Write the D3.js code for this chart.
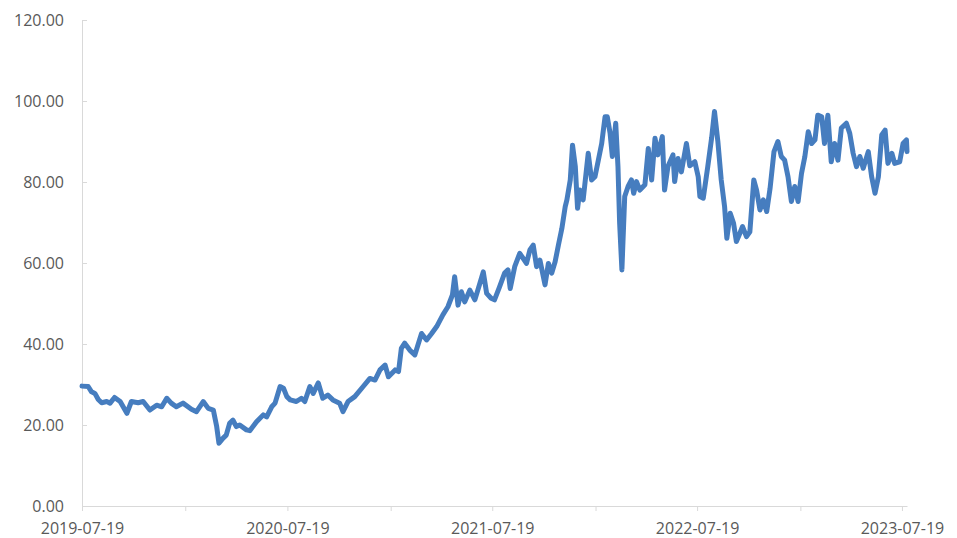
<!DOCTYPE html>
<html>
<head>
<meta charset="utf-8">
<script src="https://cdn.jsdelivr.net/npm/d3@7/dist/d3.min.js"></script>
<style>
  html, body { margin: 0; padding: 0; background: #ffffff; }
  svg { display: block; }
  .tick text { font-family: "Open Sans", "Noto Sans", sans-serif; font-size: 16px; fill: #595959; }
</style>
</head>
<body>
<svg id="chart" width="957" height="538"></svg>
<script>
// Observation dates and closing values of the series
const dates = [
  "2019-07-19","2019-07-30","2019-08-05","2019-08-11","2019-08-17","2019-08-23","2019-09-01","2019-09-07",
  "2019-09-15","2019-09-25","2019-10-07","2019-10-15","2019-10-27","2019-11-05","2019-11-17","2019-11-29",
  "2019-12-08","2019-12-17","2019-12-25","2020-01-03","2020-01-15","2020-01-30","2020-02-08","2020-02-20",
  "2020-02-29","2020-03-09","2020-03-15","2020-03-19","2020-03-26","2020-04-01","2020-04-07","2020-04-13",
  "2020-04-19","2020-04-25","2020-05-07","2020-05-13","2020-05-25","2020-06-06","2020-06-12","2020-06-21",
  "2020-06-27","2020-07-06","2020-07-12","2020-07-18","2020-07-24","2020-08-04","2020-08-13","2020-08-19",
  "2020-08-28","2020-09-03","2020-09-12","2020-09-20","2020-09-29","2020-10-08","2020-10-20","2020-10-26",
  "2020-11-04","2020-11-16","2020-12-01","2020-12-13","2020-12-22","2020-12-31","2021-01-09","2021-01-15",
  "2021-01-27","2021-02-02","2021-02-07","2021-02-13","2021-02-22","2021-03-03","2021-03-15","2021-03-24",
  "2021-04-02","2021-04-11","2021-04-22","2021-05-01","2021-05-09","2021-05-13","2021-05-19","2021-05-25",
  "2021-05-31","2021-06-09","2021-06-18","2021-06-27","2021-07-03","2021-07-09","2021-07-17","2021-07-23",
  "2021-08-01","2021-08-10","2021-08-16","2021-08-20","2021-08-28","2021-09-06","2021-09-18","2021-09-24",
  "2021-09-30","2021-10-06","2021-10-12","2021-10-21","2021-10-27","2021-11-02","2021-11-08","2021-11-14",
  "2021-11-20","2021-11-26","2021-11-29","2021-12-05","2021-12-09","2021-12-14","2021-12-18","2021-12-22",
  "2021-12-28","2022-01-06","2022-01-12","2022-01-18","2022-01-24","2022-01-30","2022-02-05","2022-02-09",
  "2022-02-14","2022-02-18","2022-02-24","2022-02-28","2022-03-03","2022-03-07","2022-03-12","2022-03-18",
  "2022-03-24","2022-03-28","2022-04-02","2022-04-08","2022-04-17","2022-04-23","2022-04-29","2022-05-05",
  "2022-05-10","2022-05-18","2022-05-22","2022-05-28","2022-06-06","2022-06-09","2022-06-15","2022-06-21",
  "2022-06-30","2022-07-06","2022-07-15","2022-07-21","2022-07-24","2022-07-30","2022-08-07","2022-08-14",
  "2022-08-19","2022-08-25","2022-08-31","2022-09-06","2022-09-10","2022-09-16","2022-09-22","2022-09-27",
  "2022-10-03","2022-10-08","2022-10-15","2022-10-21","2022-10-28","2022-11-02","2022-11-08","2022-11-14",
  "2022-11-20","2022-11-26","2022-12-03","2022-12-10","2022-12-16","2022-12-22","2022-12-28","2023-01-03",
  "2023-01-09","2023-01-15","2023-01-21","2023-01-27","2023-02-02","2023-02-08","2023-02-14","2023-02-19",
  "2023-02-26","2023-03-03","2023-03-09","2023-03-15","2023-03-21","2023-03-27","2023-04-02","2023-04-11",
  "2023-04-17","2023-04-23","2023-04-29","2023-05-05","2023-05-11","2023-05-20","2023-05-26","2023-06-01",
  "2023-06-07","2023-06-13","2023-06-19","2023-06-24","2023-07-01","2023-07-06","2023-07-15","2023-07-21",
  "2023-07-27","2023-07-28"
];
const values = [
  29.6,29.5,28.2,27.8,26.3,25.5,25.8,25.4,
  26.8,25.8,22.9,25.8,25.5,25.8,23.7,24.9,
  24.5,26.6,25.4,24.5,25.4,23.9,23.3,25.8,
  24.1,23.7,19.6,15.5,16.7,17.5,20.4,21.2,
  19.6,20.0,18.8,18.6,20.8,22.5,22.0,24.5,
  25.4,29.5,29.1,27.0,26.2,25.8,26.6,25.8,
  29.5,27.8,30.4,26.6,27.4,26.2,25.4,23.3,
  25.8,27.0,29.5,31.5,31.1,33.6,34.8,31.9,
  33.6,33.2,38.9,40.2,38.5,37.3,42.6,41.0,
  42.6,44.3,47.2,49.2,52.1,56.6,49.6,52.9,
  50.4,53.3,50.9,55.0,57.8,52.5,51.3,50.9,
  54.1,57.5,58.3,53.7,59.1,62.4,59.9,63.2,
  64.4,59.1,60.7,54.6,59.9,57.5,60.3,64.5,
  68.5,73.9,75.6,80.5,89.1,83.8,73.5,78.0,
  75.6,87.1,80.5,81.3,85.4,89.5,96.1,96.1,
  92.0,86.3,94.5,83.8,69.8,58.3,76.4,78.9,
  80.5,77.2,80.1,78.0,79.3,88.3,80.5,90.8,
  86.7,91.2,78.0,83.8,86.7,80.1,85.8,82.5,
  89.5,84.0,85.0,81.3,76.4,76.0,83.8,91.0,
  97.4,90.0,80.5,73.9,66.1,72.3,69.8,65.3,
  67.3,69.0,66.5,67.7,80.5,78.0,73.1,75.6,
  72.7,78.4,87.5,90.0,86.3,85.4,81.3,75.2,
  78.9,75.2,82.1,86.3,92.4,89.5,90.4,96.5,
  96.1,89.5,96.5,85.0,89.5,85.4,93.3,94.5,
  92.0,87.1,83.8,86.3,83.4,87.5,81.3,77.2,
  81.3,91.6,92.8,84.6,87.1,84.6,85.0,89.5,
  90.4,87.5
];

// Axis ticks: half-yearly marks on the date axis, only the July ones carry labels
const xTickDates = [
  "2019-07-19","2020-01-19","2020-07-19","2021-01-19","2021-07-19",
  "2022-01-19","2022-07-19","2023-01-19","2023-07-19"
];
const xLabelDates = ["2019-07-19","2020-07-19","2021-07-19","2022-07-19","2023-07-19"];
const yTicks = [0, 20, 40, 60, 80, 100, 120];

const parse = d3.timeParse("%Y-%m-%d");
const fmt = d3.timeFormat("%Y-%m-%d");
const series = dates.map((d, i) => ({ date: parse(d), value: values[i] }));

const svg = d3.select("#chart");
const axisColor = "#d9d9d9";

const x = d3.scaleTime()
  .domain([parse("2019-07-19"), parse("2023-07-28")])
  .range([82, 907]);

const y = d3.scaleLinear()
  .domain([0, 120])
  .range([506, 20]);

// Value axis: ticks point into the plot, labels sit to the left
const yAxis = d3.axisLeft(y)
  .tickValues(yTicks)
  .tickFormat(d3.format(".2f"))
  .tickSizeInner(-5)
  .tickSizeOuter(0)
  .tickPadding(18);

const yg = svg.append("g").attr("transform", "translate(82,0)").call(yAxis);
yg.select(".domain").remove();
yg.selectAll(".tick line").attr("stroke", axisColor);

// Date axis
const labelSet = new Set(xLabelDates);
const xAxis = d3.axisBottom(x)
  .tickValues(xTickDates.map(parse))
  .tickFormat(d => labelSet.has(fmt(d)) ? fmt(d) : "")
  .tickSizeInner(5)
  .tickSizeOuter(0)
  .tickPadding(12);

const xg = svg.append("g").attr("transform", `translate(0,${y(0)})`).call(xAxis);
xg.select(".domain").attr("stroke", axisColor);
xg.selectAll(".tick line").attr("stroke", axisColor);

// Vertical axis line, running from the top of the scale down past the baseline
svg.append("line")
  .attr("x1", 82.5).attr("x2", 82.5)
  .attr("y1", y(120)).attr("y2", y(0) + 5)
  .attr("stroke", axisColor)
  .attr("stroke-width", 1);

// Series line
const line = d3.line()
  .x(d => x(d.date))
  .y(d => y(d.value));

svg.append("path")
  .datum(series)
  .attr("d", line)
  .attr("fill", "none")
  .attr("stroke", "#467dbf")
  .attr("stroke-width", 5)
  .attr("stroke-linejoin", "round")
  .attr("stroke-linecap", "round");
</script>
</body>
</html>
